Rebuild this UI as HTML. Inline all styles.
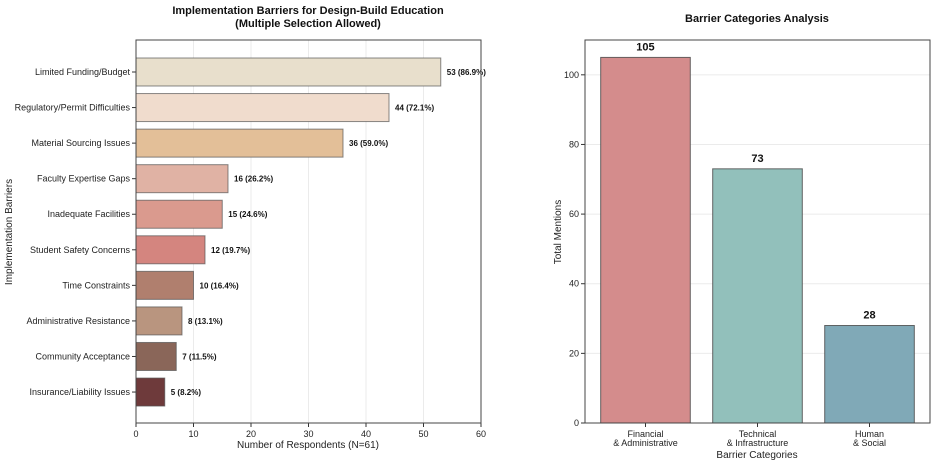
<!DOCTYPE html>
<html><head><meta charset="utf-8"><style>
body{margin:0;background:#fff;}
svg{display:block;font-family:"Liberation Sans","DejaVu Sans",sans-serif;}
</style></head><body>
<svg id="c" width="935" height="464"></svg>
<script>
const barrierNames=["Limited Funding/Budget","Regulatory/Permit Difficulties","Material Sourcing Issues","Faculty Expertise Gaps","Inadequate Facilities","Student Safety Concerns","Time Constraints","Administrative Resistance","Community Acceptance","Insurance/Liability Issues"];
const barrierCounts=[53,44,36,16,15,12,10,8,7,5];
const barrierPct=["86.9","72.1","59.0","26.2","24.6","19.7","16.4","13.1","11.5","8.2"];
const barrierColors=["#e8dfcc","#f0dccd","#e3bf98","#e0b2a4","#da9a8e","#d4857f","#b07f6e","#b9957f","#8a6659","#6e3a3b"];
const xTicks=[0,10,20,30,40,50,60];
const catNames=[["Financial","& Administrative"],["Technical","& Infrastructure"],["Human","& Social"]];
const catTotals=[105,73,28];
const catColors=["#d48c8c","#92c0bb","#80a9b7"];
const yTicks=[0,20,40,60,80,100];

const svg=document.getElementById('c');
const NS="http://www.w3.org/2000/svg";
function mk(tag,attrs,name,text){const e=document.createElementNS(NS,tag);for(const k in attrs)e.setAttribute(k,attrs[k]);


if(text!==undefined)e.textContent=text;svg.appendChild(e);return e;}

// Left chart
const L={x0:136,x1:481,y0:40,y1:423};
const xs=v=>L.x0+(v-0)/(60-0)*(L.x1-L.x0);
const band=35.56;
const yc=i=>72+band*i;
xTicks.forEach(t=>{mk('line',{x1:xs(t),x2:xs(t),y1:L.y0,y2:L.y1,stroke:'#ebebeb','stroke-width':1},'x-gridline');
mk('line',{x1:xs(t),x2:xs(t),y1:L.y1,y2:L.y1+4,stroke:'#333'},'x-tick');
mk('text',{x:xs(t),y:L.y1+14,'font-size':9,'text-anchor':'middle',fill:'#222'},'x-tick-label',t);});
barrierNames.forEach((n,i)=>{const h=28;
mk('rect',{x:xs(0),y:yc(i)-h/2,width:xs(barrierCounts[i])-xs(0),height:h,fill:barrierColors[i],stroke:'#555','stroke-opacity':0.7,'stroke-width':1},'bar-'+n.toLowerCase().replace(/[^a-z]+/g,'-'));
mk('line',{x1:L.x0-4,x2:L.x0,y1:yc(i),y2:yc(i),stroke:'#333'},'y-tick');
mk('text',{x:L.x0-6,y:yc(i)+3,'font-size':9,'text-anchor':'end',fill:'#222'},'y-tick-label',n);
mk('text',{x:xs(barrierCounts[i])+6,y:yc(i)+3,'font-size':8,'font-weight':'bold',fill:'#111'},'value-label',barrierCounts[i]+' ('+barrierPct[i]+'%)');});
mk('rect',{x:L.x0,y:L.y0,width:L.x1-L.x0,height:L.y1-L.y0,fill:'none',stroke:'#444'},'plot-frame');
mk('text',{x:308,y:448,'font-size':10,'text-anchor':'middle',fill:'#222'},'x-axis-title','Number of Respondents (N=61)');
mk('text',{x:12,y:232,'font-size':10,'text-anchor':'middle',fill:'#222',transform:'rotate(-90 12 232)'},'y-axis-title','Implementation Barriers');
mk('text',{x:308,y:14,'font-size':11,'font-weight':'bold','text-anchor':'middle',fill:'#111'},'chart-title','Implementation Barriers for Design-Build Education');
mk('text',{x:308,y:27,'font-size':11,'font-weight':'bold','text-anchor':'middle',fill:'#111'},'chart-subtitle','(Multiple Selection Allowed)');

// Right chart
const R={x0:585,x1:930,y0:40,y1:423};
const ys=v=>R.y1-v/110*(R.y1-R.y0);
const step=(R.x1-R.x0)/3.08;
const xc=i=>R.x0+step*(0.54+i);
yTicks.forEach(t=>{if(t>0)mk('line',{x1:R.x0,x2:R.x1,y1:ys(t),y2:ys(t),stroke:'#ebebeb'},'y-gridline');
mk('line',{x1:R.x0-4,x2:R.x0,y1:ys(t),y2:ys(t),stroke:'#333'},'y-tick');
mk('text',{x:R.x0-6,y:ys(t)+3,'font-size':9,'text-anchor':'end',fill:'#222'},'y-tick-label',t);});
catTotals.forEach((v,i)=>{const w=step*0.8;
mk('rect',{x:xc(i)-w/2,y:ys(v),width:w,height:ys(0)-ys(v),fill:catColors[i],stroke:'#444','stroke-opacity':0.8},'bar-category-'+(i+1));
mk('text',{x:xc(i),y:ys(v)-7,'font-size':11,'font-weight':'bold','text-anchor':'middle',fill:'#111'},'value-label',v);
mk('line',{x1:xc(i),x2:xc(i),y1:R.y1,y2:R.y1+4,stroke:'#333'},'x-tick');
mk('text',{x:xc(i),y:R.y1+14,'font-size':9,'text-anchor':'middle',fill:'#222'},'x-tick-label',catNames[i][0]);
mk('text',{x:xc(i),y:R.y1+23,'font-size':9,'text-anchor':'middle',fill:'#222'},'x-tick-label',catNames[i][1]);});
mk('rect',{x:R.x0,y:R.y0,width:R.x1-R.x0,height:R.y1-R.y0,fill:'none',stroke:'#444'},'plot-frame');
mk('text',{x:757,y:458,'font-size':10,'text-anchor':'middle',fill:'#222'},'x-axis-title','Barrier Categories');
mk('text',{x:561,y:232,'font-size':10,'text-anchor':'middle',fill:'#222',transform:'rotate(-90 561 232)'},'y-axis-title','Total Mentions');
mk('text',{x:757,y:22,'font-size':11,'font-weight':'bold','text-anchor':'middle',fill:'#111'},'chart-title','Barrier Categories Analysis');
</script>
</body></html>
